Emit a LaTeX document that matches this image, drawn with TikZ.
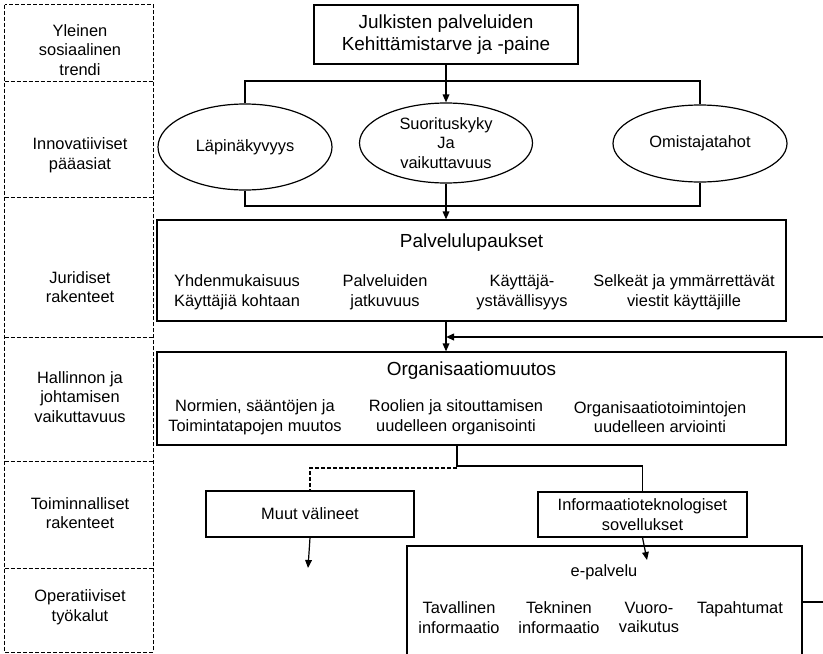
\documentclass[tikz,border=0pt]{standalone}
\usepackage{fontspec}
\setmainfont{Liberation Sans}
\usetikzlibrary{arrows.meta,shapes.geometric}
\begin{document}
\begin{tikzpicture}[x=0.75pt,y=-0.75pt,
  every node/.style={font=\fontsize{12.3}{14.8}\selectfont, align=center, inner sep=0pt},
  title/.style={font=\fontsize{14.2}{17}\selectfont},
  box/.style={draw, line width=0.9pt, rectangle},
  oval/.style={draw, line width=0.9pt, ellipse},
  band/.style={rectangle, minimum width=111pt},
  link/.style={line width=0.9pt},
  dlink/.style={line width=1.1pt, dash pattern=on 3pt off 1.5pt},
  arr/.style={line width=0.9pt, -{Triangle[length=6pt,width=5pt]}},
]
\useasboundingbox (0,0) rectangle (823,653);

% level bands on the left
\node[band, minimum height=57pt]    (b1) at (79,43) {};
\node[band, minimum height=87pt]    (b2) at (79,139) {};
\node[band, minimum height=105pt]   (b3) at (79,267) {};
\node[band, minimum height=93pt]    (b4) at (79,399) {};
\node[band, minimum height=80.25pt] (b5) at (79,514.5) {};
\node[band, minimum height=63pt]    (b6) at (79,610) {};
\draw[dlink] (b1.north west) rectangle (b6.south east);
\foreach \b in {b1,b2,b3,b4,b5}
  \draw[dlink] (\b.south west) -- (\b.south east);

\node (t1) at (80,50)  {Yleinen\\sosiaalinen\\trendi};
\node (t2) at (80,155) {Innovatiiviset\\pääasiat};
\node (t3) at (80,287) {Juridiset\\rakenteet};
\node (t4) at (80,397) {Hallinnon ja\\johtamisen\\vaikuttavuus};
\node (t5) at (80,513) {Toiminnalliset\\rakenteet};
\node (t6) at (80,607) {Operatiiviset\\työkalut};

% top box
\node[box, title, minimum width=198pt, minimum height=44.25pt] (top) at (446,34.5)
  {Julkisten palveluiden\\Kehittämistarve ja -paine};

% innovation ellipses
\node[oval, minimum width=130.5pt, minimum height=64.5pt] (lap) at (245,147) {Läpinäkyvyys};
\node[oval, minimum width=129.75pt, minimum height=60pt] (suo) at (446,143) {Suorituskyky\\Ja\\vaikuttavuus};
\node[oval, minimum width=130.5pt, minimum height=57.75pt] (omi) at (700,143.5) {Omistajatahot};

\coordinate (busTop) at (446,81);
\coordinate (busBot) at (446,206);
\draw[link] (lap.north) -- (lap.north |- busTop) -- (omi.north |- busTop) -- (omi.north);
\draw[link] (lap.south) -- (lap.south |- busBot) -- (omi.south |- busBot) -- (omi.south);
\draw[arr] (top.south) -- (suo.north);

% service promises
\node[box, minimum width=471.75pt, minimum height=75.75pt] (lupa) at (471.5,270.5) {};
\node[title] (lupaT) at (471.5,243) {Palvelulupaukset};
\node (l1) at (237,292.5) {Yhdenmukaisuus\\Käyttäjiä kohtaan};
\node (l2) at (385,292.5) {Palveluiden\\jatkuvuus};
\node (l3) at (522,292.5) {Käyttäjä-\\ystävällisyys};
\node (l4) at (684,292.5) {Selkeät ja ymmärrettävät\\viestit käyttäjille};
\draw[arr] (suo.south) -- (suo.south |- lupa.north);

% organisational change
\node[box, minimum width=471.75pt, minimum height=69.75pt] (org) at (471.5,398.5) {};
\node[title] (orgT) at (471.5,371) {Organisaatiomuutos};
\node (o1) at (255,417) {Normien, sääntöjen ja\\Toimintatapojen muutos};
\node (o2) at (456,417) {Roolien ja sitouttamisen\\uudelleen organisointi};
\node (o3) at (660,417) {Organisaatiotoimintojen\\uudelleen arviointi};
\draw[arr] (lupa.south -| suo.south) -- (org.north -| suo.south);

\coordinate (fbIn) at (823,337);
\draw[arr, line width=1.3pt] (fbIn) -- (fbIn -| suo.south);

% tools
\node[box, minimum width=156pt, minimum height=34.5pt] (muut) at (310,514) {Muut välineet};
\node[box, minimum width=156.75pt, minimum height=33.75pt] (it) at (642.5,514.5)
  {Informaatioteknologiset\\sovellukset};

\coordinate (fork) at (457,466);
\coordinate (forkD) at (457,468);
\draw[link] (org.south -| fork) -- (fork) -| (it.north);
\draw[dlink, line width=0.9pt] (forkD) -| (muut.north);

\coordinate (muutEnd) at (308,568);
\draw[arr] (muut.south) -- (muutEnd);

% e-service box
\node[box, minimum width=296.25pt, minimum height=130.5pt] (epal) at (604.5,633) {};
\node (eT) at (604,572) {e-palvelu};
\node (e1) at (459,617.5) {Tavallinen\\informaatio};
\node (e2) at (559,617.5) {Tekninen\\informaatio};
\node (e3) at (649,617.5) {Vuoro-\\vaikutus};
\node (e4) at (740,609) {Tapahtumat};

\coordinate (itEnd) at (647,560);
\draw[arr] (it.south) -- (itEnd);

\coordinate (fbOut) at (823,602);
\draw[link] (fbOut -| epal.east) -- (fbOut);
\end{tikzpicture}
\end{document}
